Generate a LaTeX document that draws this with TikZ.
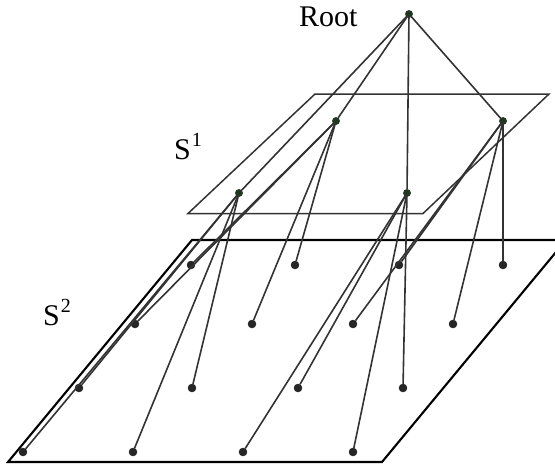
\documentclass[tikz,border=0pt]{standalone}
\usepackage{fontspec}
\setmainfont{Liberation Serif}
\definecolor{edgec}{HTML}{333333}
\definecolor{topc}{HTML}{1E3A1E}
\begin{document}
\begin{tikzpicture}[x=1pt,y=-1pt,
  edge/.style={draw=edgec,line width=1.6pt},
  plane/.style={draw=edgec,line width=1.5pt,line join=miter},
  planeb/.style={draw=black,line width=2.1pt,line join=miter},
  leaf/.style={circle,inner sep=0pt,minimum size=8pt,fill=black!85,draw=black!90,line width=0.4pt},
  upper/.style={circle,inner sep=0pt,minimum size=7pt,fill=topc,draw=black!80,line width=0.8pt},
  lab/.style={inner sep=0pt,font=\fontsize{30}{34}\selectfont,anchor=base west}]
\clip (0,0) rectangle (555,466);
% planes
\draw[planeb] (8,462) -- (192,240) -- (566,240) -- (382,462) -- cycle;
\draw[plane] (188,213.5) -- (315,94) -- (549,94) -- (423,213.5) -- cycle;
% nodes
\node[upper] (R) at (409,14) {};
\node[upper] (A) at (239,193) {};
\node[upper] (B) at (336,121) {};
\node[upper] (C) at (407,193) {};
\node[upper] (D) at (503,121) {};
\node[leaf] (a1) at (191,265) {};
\node[leaf] (a2) at (295,265) {};
\node[leaf] (a3) at (399,265) {};
\node[leaf] (a4) at (503,265) {};
\node[leaf] (b1) at (135,324) {};
\node[leaf] (b2) at (252,324) {};
\node[leaf] (b3) at (353,324) {};
\node[leaf] (b4) at (453,324) {};
\node[leaf] (c1) at (79,388) {};
\node[leaf] (c2) at (192,388) {};
\node[leaf] (c3) at (298,388) {};
\node[leaf] (c4) at (403,388) {};
\node[leaf] (d1) at (23,452) {};
\node[leaf] (d2) at (133,452) {};
\node[leaf] (d3) at (243,452) {};
\node[leaf] (d4) at (353,452) {};
% edges
\foreach \t in {A,B,C,D} \draw[edge] (R.center) -- (\t);
\foreach \t in {c1,d1,c2,d2} \draw[edge] (A.center) -- (\t);
\foreach \t in {a1,b1,a2,b2} \draw[edge] (B.center) -- (\t);
\foreach \t in {c3,c4,d3,d4} \draw[edge] (C.center) -- (\t);
\foreach \t in {a3,a4,b3,b4} \draw[edge] (D.center) -- (\t);
% redraw upper node centres on top
\foreach \n in {R,A,B,C,D}
  \fill[topc] (\n.center) circle (2.8pt);
% labels
\node[lab] (rootlab) at (299,26) {Root};
\node[lab] (s1lab) at (174,159) {S\kern1pt\raisebox{13pt}{\fontsize{20}{20}\selectfont 1}};
\node[lab] (s2lab) at (43,325) {S\kern1pt\raisebox{13pt}{\fontsize{20}{20}\selectfont 2}};
\end{tikzpicture}
\end{document}
